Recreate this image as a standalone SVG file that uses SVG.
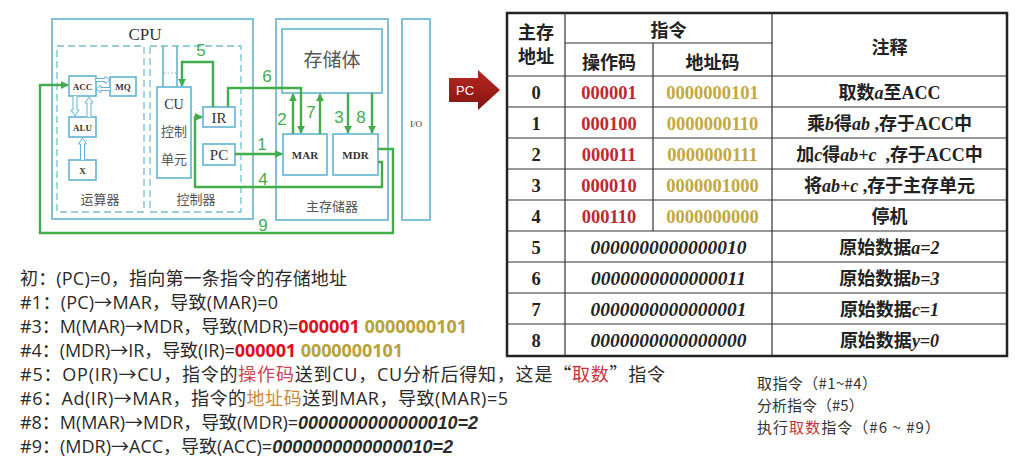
<svg xmlns="http://www.w3.org/2000/svg" width="1024" height="458" viewBox="0 0 1024 458">
<defs>
<marker id="ga" viewBox="0 0 10 10" refX="9" refY="5" markerWidth="3.4" markerHeight="3.4" orient="auto" markerUnits="strokeWidth"><path d="M0,0 L10,5 L0,10 z" fill="#43ad4b"/></marker>
<linearGradient id="pcg" x1="0" y1="0" x2="0" y2="1"><stop offset="0" stop-color="#b52a22"/><stop offset="0.5" stop-color="#a01d18"/><stop offset="1" stop-color="#7c1410"/></linearGradient>
<style>
.b{fill:none;stroke:#62b3d3;stroke-width:1.6}
.bw{fill:#fff;stroke:#62b3d3;stroke-width:1.6}
.h{fill:#fff;stroke:#62b3d3;stroke-width:1}
.d{fill:none;stroke:#7bbccf;stroke-width:1.3;stroke-dasharray:7 4}
.g{fill:none;stroke:#43ad4b;stroke-width:2.4;marker-end:url(#ga)}
.gl{font-family:"Liberation Sans",sans-serif;font-size:17px;fill:#43ad4b;text-anchor:middle}
.sr{font-family:"Liberation Serif","Noto Sans CJK SC",serif;fill:#333;text-anchor:middle}
.cj{font-family:"Noto Sans CJK SC",sans-serif;fill:#555;text-anchor:middle}
.tb{font-family:"Liberation Serif","Noto Sans CJK SC",serif;font-size:18px;font-weight:bold;fill:#222;text-anchor:middle}
.num{font-size:18.5px}
.lit{font-size:19.5px;font-style:italic}
.it{font-style:italic}
.op{fill:#c0282e}
.ad{fill:#c2a83e}
.rd{fill:#dd1020;font-weight:bold}
.ol{fill:#b8a23a;font-weight:bold}
.bi{font-family:"Liberation Sans",sans-serif;font-weight:bold;font-style:italic}
.q{font-family:"Noto Sans CJK SC",sans-serif}
.tl{stroke:#333;stroke-width:1.2}
</style>
</defs>
<rect width="1024" height="458" fill="#fff"/>

<g id="cpu">
<rect class="b" x="52" y="19" width="201" height="200"/>
<text class="sr" x="145" y="40" font-size="17">CPU</text>
</g>
<g id="alu-unit">
<rect class="d" x="57" y="46" width="87" height="166"/>
<text class="cj" x="100" y="204" font-size="13">运算器</text>
</g>
<g id="acc"><rect class="bw" x="69" y="76" width="27" height="20"/><text class="sr" x="82.5" y="89.5" font-size="9" font-weight="bold">ACC</text></g>
<g id="mq"><rect class="bw" x="110" y="77" width="26" height="19"/><text class="sr" x="123" y="89.5" font-size="9" font-weight="bold">MQ</text></g>
<g id="alu"><rect class="bw" x="69" y="117" width="27" height="20"/><text class="sr" x="82.5" y="130.5" font-size="9" font-weight="bold">ALU</text></g>
<g id="x"><rect class="bw" x="69" y="160" width="27" height="20"/><text class="sr" x="82.5" y="173.5" font-size="9" font-weight="bold">X</text></g>
<g id="alu-links">
<path class="h" d="M73,96 V110 H71 L75,116 L79,110 H77 V96"/>
<path class="h" d="M87,117 V103 H85 L89,97 L93,103 H91 V117"/>
<path class="h" d="M80.5,160 V144 H78.5 L82.5,138 L86.5,144 H84.5 V160"/>
<path class="h" d="M96,78.5 H105 V76.5 L110,80 L105,83.5 V81.5 H96"/>
<path class="h" d="M110,87.5 H101 V85.5 L96,89 L101,92.5 V90.5 H110"/>
</g>
<g id="control-unit">
<rect class="d" x="150" y="46" width="91" height="166"/>
<text class="cj" x="196" y="204" font-size="13">控制器</text>
<line class="b" x1="163" y1="46" x2="163" y2="87" stroke-width="1.2"/>
<line class="b" x1="177" y1="46" x2="177" y2="87" stroke-width="1.2"/>
<line x1="164" y1="73" x2="176" y2="73" stroke="#9ab" stroke-width="1" stroke-dasharray="1.5 2"/>
</g>
<g id="cu"><rect class="bw" x="157" y="87" width="34" height="91"/>
<text class="sr" x="174" y="109" font-size="14">CU</text>
<text class="cj" x="174" y="136" font-size="13" fill="#333">控制</text>
<text class="cj" x="174" y="164" font-size="13" fill="#333">单元</text></g>
<g id="ir"><rect class="bw" x="203" y="107" width="32" height="20"/><text class="sr" x="219" y="123" font-size="15">IR</text></g>
<g id="pc"><rect class="bw" x="203" y="144" width="32" height="21"/><text class="sr" x="219" y="160" font-size="15">PC</text></g>
<g id="main-memory">
<rect class="b" x="276" y="19" width="112" height="201"/>
<text class="cj" x="332" y="211" font-size="13">主存储器</text>
</g>
<g id="storage"><rect class="bw" x="282" y="29" width="100" height="64"/><text class="cj" x="332" y="67" font-size="19" fill="#444">存储体</text></g>
<g id="mar"><rect class="bw" x="283" y="134" width="44" height="41"/><text class="sr" x="305" y="159" font-size="11" font-weight="bold">MAR</text></g>
<g id="mdr"><rect class="bw" x="333" y="134" width="45" height="41"/><text class="sr" x="355.5" y="159" font-size="11" font-weight="bold">MDR</text></g>
<g id="io"><rect class="b" x="402" y="19" width="28" height="201"/><text class="sr" x="416" y="127" font-size="9">I/O</text></g>

<g id="connectors">
<path class="g" d="M235,154 H282"/>
<path class="g" d="M293,134 V94"/>
<path class="g" d="M228,107 V88 H301 V133"/>
<path class="g" d="M320,134 V94"/>
<path class="g" d="M348,93 V133"/>
<path class="g" d="M372,93 V133"/>
<path class="g" d="M378,162 H382 V187 H195 V117 H202"/>
<path class="g" d="M213,107 V62 H182 V86"/>
<path class="g" d="M378,149 H393 V233 H40 V85 H68"/>
<text class="gl" x="262" y="150">1</text>
<text class="gl" x="282" y="125">2</text>
<text class="gl" x="339" y="123">3</text>
<text class="gl" x="263" y="185">4</text>
<text class="gl" x="201" y="56">5</text>
<text class="gl" x="267" y="82">6</text>
<text class="gl" x="311" y="118">7</text>
<text class="gl" x="361" y="123">8</text>
<text class="gl" x="263" y="231">9</text>
</g>

<g id="pc-arrow">
<path d="M449,78 H478 V70 L500,90 L478,110 V102 H449 z" fill="url(#pcg)"/>
<text x="465" y="95" font-family="'Liberation Sans',sans-serif" font-size="13" fill="#fff" text-anchor="middle">PC</text>
</g>

<g id="table">
<rect x="507" y="13" width="500" height="343" fill="none" stroke="#222" stroke-width="2.5"/>
<line class="tl" x1="565" y1="13" x2="565" y2="356"/>
<line class="tl" x1="772" y1="13" x2="772" y2="356"/>
<line class="tl" x1="653" y1="43" x2="653" y2="231"/>
<line class="tl" x1="565" y1="43" x2="772" y2="43"/>
<line class="tl" x1="507" y1="76" x2="1007" y2="76"/>
<line class="tl" x1="507" y1="107" x2="1007" y2="107"/>
<line class="tl" x1="507" y1="138" x2="1007" y2="138"/>
<line class="tl" x1="507" y1="169" x2="1007" y2="169"/>
<line class="tl" x1="507" y1="200" x2="1007" y2="200"/>
<line class="tl" x1="507" y1="231" x2="1007" y2="231"/>
<line class="tl" x1="507" y1="262" x2="1007" y2="262"/>
<line class="tl" x1="507" y1="293" x2="1007" y2="293"/>
<line class="tl" x1="507" y1="324" x2="1007" y2="324"/>
<text class="tb" x="536" y="39">主存</text>
<text class="tb" x="536" y="63">地址</text>
<text class="tb" x="668.5" y="37">指令</text>
<text class="tb" x="609" y="69">操作码</text>
<text class="tb" x="712.5" y="69">地址码</text>
<text class="tb" x="889.5" y="54">注释</text>

<text class="tb num" x="536" y="98.5">0</text>
<text class="tb num op" x="609" y="98.5">000001</text>
<text class="tb num ad" x="712.5" y="98.5">0000000101</text>
<text class="tb" x="889.5" y="98.5">取数<tspan class="it">a</tspan>至ACC</text>

<text class="tb num" x="536" y="129.5">1</text>
<text class="tb num op" x="609" y="129.5">000100</text>
<text class="tb num ad" x="712.5" y="129.5">0000000110</text>
<text class="tb" x="889.5" y="129.5">乘<tspan class="it">b</tspan>得<tspan class="it">ab</tspan> ,存于ACC中</text>

<text class="tb num" x="536" y="160.5">2</text>
<text class="tb num op" x="609" y="160.5">000011</text>
<text class="tb num ad" x="712.5" y="160.5">0000000111</text>
<text class="tb" x="889.5" y="160.5" xml:space="preserve">加<tspan class="it">c</tspan>得<tspan class="it">ab+c</tspan>  ,存于ACC中</text>

<text class="tb num" x="536" y="191.5">3</text>
<text class="tb num op" x="609" y="191.5">000010</text>
<text class="tb num ad" x="712.5" y="191.5">0000001000</text>
<text class="tb" x="889.5" y="191.5">将<tspan class="it">ab+c</tspan> ,存于主存单元</text>

<text class="tb num" x="536" y="222.5">4</text>
<text class="tb num op" x="609" y="222.5">000110</text>
<text class="tb num ad" x="712.5" y="222.5">0000000000</text>
<text class="tb" x="889.5" y="222.5">停机</text>

<text class="tb num" x="536" y="253.5">5</text>
<text class="tb lit" x="668.5" y="253.5">0000000000000010</text>
<text class="tb" x="889.5" y="253.5">原始数据<tspan class="it">a=2</tspan></text>

<text class="tb num" x="536" y="284.5">6</text>
<text class="tb lit" x="668.5" y="284.5">0000000000000011</text>
<text class="tb" x="889.5" y="284.5">原始数据<tspan class="it">b=3</tspan></text>

<text class="tb num" x="536" y="315.5">7</text>
<text class="tb lit" x="668.5" y="315.5">0000000000000001</text>
<text class="tb" x="889.5" y="315.5">原始数据<tspan class="it">c=1</tspan></text>

<text class="tb num" x="536" y="346.5">8</text>
<text class="tb lit" x="668.5" y="346.5">0000000000000000</text>
<text class="tb" x="889.5" y="346.5">原始数据<tspan class="it">y=0</tspan></text>
</g>

<g id="steps" font-family="'Open Sans','Noto Sans CJK SC',sans-serif" font-size="18" fill="#2a2a2a">
<text x="20" y="285" textLength="327" lengthAdjust="spacing">初：(PC)=0，指向第一条指令的存储地址</text>
<text x="20" y="309" textLength="258" lengthAdjust="spacing">#1：(PC)→MAR，导致(MAR)=0</text>
<text x="20" y="333" textLength="447" lengthAdjust="spacing">#3：M(MAR)→MDR，导致(MDR)=<tspan class="rd">000001</tspan> <tspan class="ol">0000000101</tspan></text>
<text x="20" y="357" textLength="383" lengthAdjust="spacing">#4：(MDR)→IR，导致(IR)=<tspan class="rd">000001</tspan> <tspan class="ol">0000000101</tspan></text>
<text x="20" y="381" textLength="645" lengthAdjust="spacing">#5：OP(IR)→CU，指令的<tspan fill="#d0434f">操作码</tspan>送到CU，CU分析后得知，这是<tspan class="q">“</tspan><tspan fill="#c8323c">取数</tspan><tspan class="q">”</tspan>指令</text>
<text x="20" y="405" textLength="488" lengthAdjust="spacing">#6：Ad(IR)→MAR，指令的<tspan fill="#c88a3a">地址码</tspan>送到MAR，导致(MAR)=5</text>
<text x="20" y="429" textLength="458" lengthAdjust="spacing">#8：M(MAR)→MDR，导致(MDR)=<tspan class="bi">0000000000000010=2</tspan></text>
<text x="20" y="453" textLength="433" lengthAdjust="spacing">#9：(MDR)→ACC，导致(ACC)=<tspan class="bi">0000000000000010=2</tspan></text>
</g>

<g id="phases" font-family="'Noto Sans CJK SC',sans-serif" font-size="15" fill="#333">
<text x="757" y="389" textLength="120" lengthAdjust="spacing">取指令（#1~#4）</text>
<text x="757" y="411">分析指令（#5）</text>
<text x="757" y="433" textLength="183" lengthAdjust="spacing">执行<tspan fill="#c8323c">取数</tspan>指令（#6 ~ #9）</text>
</g>
</svg>
